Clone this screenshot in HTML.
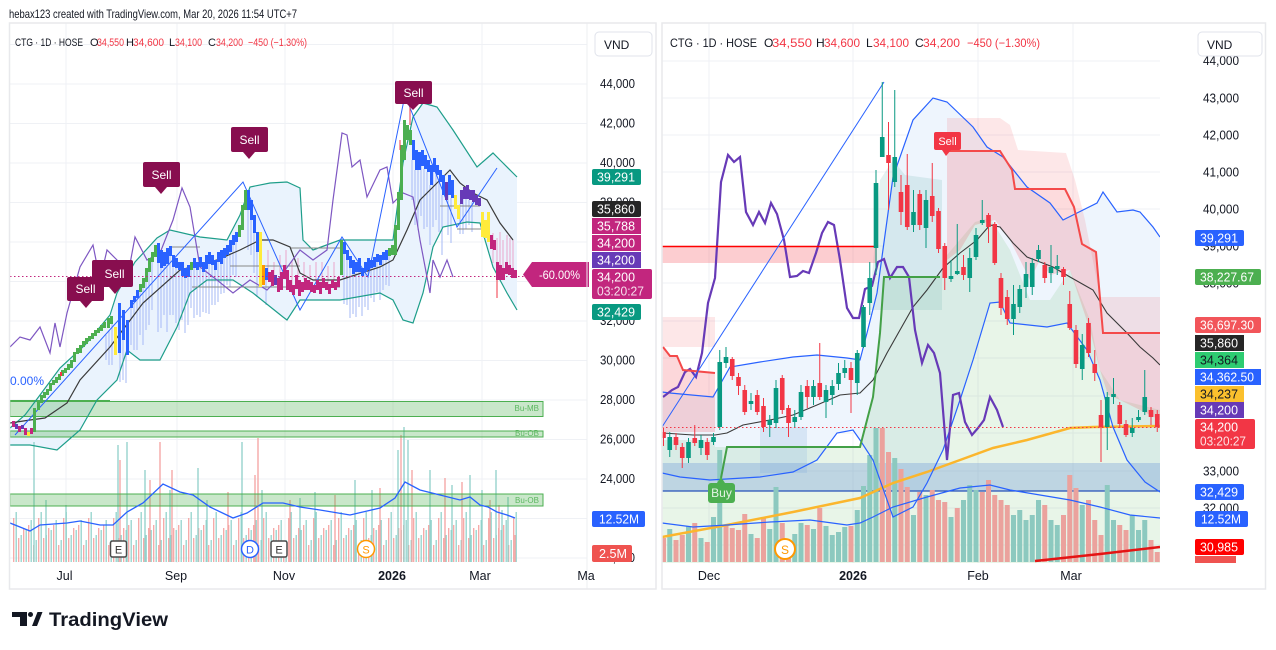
<!DOCTYPE html>
<html><head><meta charset="utf-8"><style>
html,body{margin:0;padding:0;background:#fff;width:1276px;height:650px;overflow:hidden}
svg{display:block}
text{font-family:"Liberation Sans",sans-serif}
</style></head><body>
<svg width="1276" height="650" viewBox="0 0 1276 650" xmlns="http://www.w3.org/2000/svg">
<defs>
<clipPath id="cl"><rect x="10" y="23" width="577" height="540"/></clipPath>
<clipPath id="cr"><rect x="662" y="23" width="498" height="540"/></clipPath>
<pattern id="lv" x="0" y="0" width="25" height="650" patternUnits="userSpaceOnUse">
<path d="M1.2 530V562M6.2 520V562M11.2 540V562M16.2 512V562M21.2 535V562" stroke="#93d3cc" stroke-width="1.3"/>
<path d="M3.7 525V562M8.7 545V562M13.7 518V562M18.7 538V562M23.7 528V562" stroke="#f5a7a5" stroke-width="1.3"/>
</pattern>
</defs>
<rect width="1276" height="650" fill="#fff"/>
<text x="9" y="18" font-size="12" fill="#131722" textLength="288" lengthAdjust="spacingAndGlyphs">hebax123 created with TradingView.com, Mar 20, 2026 11:54 UTC+7</text>

<!-- ============ LEFT CHART ============ -->
<g clip-path="url(#cl)">
<path d="M10 44.5H587M10 84H587M10 123.5H587M10 163H587M10 202.5H587M10 242H587M10 281.5H587M10 321H587M10 360.5H587M10 400H587M10 439.5H587M10 479H587M10 518.5H587M10 558H587M66 23V563M177 23V563M285 23V563M393 23V563M482 23V563" stroke="#eff1f5" stroke-width="1" fill="none"/>
<polygon fill="#eaf3fd" points="10,428 25,415 40,395 60,368 85,345 110,315 117,293 135,262 157,238 170,230 200,237 227,240 240,215 250,187 270,183 287,182 300,188 303,240 313,250 340,240 393,240 403,163 413,117 423,103 437,107 453,130 477,167 493,153 500,160 513,173 517,177 517,310 507,293 493,267 480,223 467,222 443,227 433,247 423,293 413,323 403,320 393,300 380,293 340,300 300,300 287,320 283,317 253,293 233,280 207,280 190,293 177,327 160,360 140,360 127,350 117,380 97,400 80,430 57,450 30,445 10,445"/>
<!-- volume -->
<rect x="12" y="420" width="505" height="142" fill="url(#lv)"/>
<path d="M34 442V562M118 445V562M127 442V562M145 470V562M198 468V562M242 442V562M262 490V562M46 500V562M66 505V562M170 490V562M207 500V562M300 498V562M315 492V562M355 480V562M372 490V562M398 450V562M404 427V562M408 440V562M430 470V562M452 485V562M470 475V562M482 490V562M496 470V562M502 510V562M508 497V562" stroke="#8fd0c9" stroke-width="1.3"/>
<path d="M120 460V562M160 442V562M172 470V562M255 475V562M258 438V562M150 480V562M228 492V562M290 500V562M335 495V562M380 488V562M401 435V562M412 470V562M445 478V562M462 482V562M490 500V562M499 505V562M515 535V562" stroke="#f4a2a0" stroke-width="1.3"/>
<!-- Bu boxes -->
<rect x="10" y="401.5" width="533" height="15" fill="#4caf50" fill-opacity="0.3" stroke="#4caf50" stroke-width="1"/>
<rect x="10" y="431" width="533" height="6" fill="#4caf50" fill-opacity="0.3" stroke="#4caf50" stroke-width="1"/>
<rect x="10" y="494" width="533" height="12" fill="#4caf50" fill-opacity="0.3" stroke="#4caf50" stroke-width="1"/>
<path d="M10 401H110" stroke="#4caf50" stroke-width="2"/>
<text x="539" y="411" font-size="8" fill="#5cb860" text-anchor="end">Bu-MB</text>
<text x="539" y="436" font-size="8" fill="#5cb860" text-anchor="end">Bu-OB</text>
<text x="539" y="503" font-size="8" fill="#5cb860" text-anchor="end">Bu-OB</text>
<!-- vol MA -->
<polyline fill="none" stroke="#2962ff" stroke-width="1.3" points="10,523 30,531 40,525 67,523 80,521 100,525 113,525 127,512 143,503 163,484 180,492 193,495 210,507 233,518 247,513 263,503 283,503 300,507 320,510 350,515 380,508 395,498 405,482 420,490 440,495 460,500 470,497 480,505 488,507 497,512 507,515 515,518"/>
<!-- ghost wicks -->
<path fill="none" stroke="#a6baf6" stroke-width="1" d="M106 335v25M109 330v35M112 320v45M120 352v30M123 340v40M126 355v28M131 305v40M134 300v50M137 295v55M140 290v45M143 285v60M146 280v50M149 270v55M152 260v50M158 262v70M161 268v60M164 265v50M167 262v70M170 255v60M173 265v50M176 268v55M179 270v60M182 275v45M185 278v55M188 275v50M191 268v40M194 268v50M197 270v45M200 267v50M203 272v40M206 268v45M209 264v50M212 265v40M215 270v35M218 262v40M221 264v30M224 258v35M227 255v30M230 252v35M233 245v30M236 242v35M248 210v40M251 220v35M254 233v40M257 252v45M266 280v25M344 254v50M347 260v45M350 268v50M353 274v40M356 272v45M359 272v35M362 276v40M365 272v35M368 270v40M371 268v30M374 267v35M377 262v30M380 265v35M383 260v30M386 260v25M389 256v30M412 160v40M415 170v55M418 170v60M421 166v50M424 169v60M427 172v55M430 185v60M433 172v55M436 175v45M439 182v50M442 195v60M448 195v40M451 198v45M460 204v30M463 199v35M466 199v30M469 200v25M472 202v30"/>
<path fill="none" stroke="#e9a6cb" stroke-width="1" d="M268 250v25M274 262v15M280 255v20M286 250v25M292 260v25M298 258v25M304 262v18M310 265v20M316 262v20M322 262v18M328 266v20M334 262v18M493 233v30M497 238v28M500 232v35M503 240v30M507 235v32M510 238v32M513 240v30"/>
<!-- BB lines -->
<polyline fill="none" stroke="#1e9e8a" stroke-width="1.2" points="10,428 25,415 40,395 60,368 85,345 110,315 117,293 135,262 157,238 170,230 200,237 227,240 240,215 250,187 270,183 287,182 300,188 303,240 313,250 340,240 393,240 403,163 413,117 423,103 437,107 453,130 477,167 493,153 500,160 513,173 517,177"/>
<polyline fill="none" stroke="#1e9e8a" stroke-width="1.2" points="517,310 507,293 493,267 480,223 467,222 443,227 433,247 423,293 413,323 403,320 393,300 380,293 340,300 300,300 287,320 283,317 253,293 233,280 207,280 190,293 177,327 160,360 140,360 127,350 117,380 97,400 80,430 57,450 30,445 10,445"/>
<!-- gray boxes -->
<path fill="none" stroke="#888" stroke-width="1" d="M192 287H340M230 266H300M290 248H340M440 206H480M457 229H483M170 247H200"/>
<!-- SMA -->
<polyline fill="none" stroke="#3a3a3a" stroke-width="1.2" points="10,423 30,420 45,418 67,403 80,380 110,347 143,303 180,270 217,260 240,250 260,240 273,240 290,247 300,273 313,280 340,280 380,267 393,260 407,230 420,200 437,183 450,170 460,183 473,193 487,200 500,223 513,240"/>
<!-- purple -->
<polyline fill="none" stroke="#7e57c2" stroke-width="1.2" points="10,347 20,337 30,340 40,327 50,353 55,323 60,347 67,313 80,267 93,245 100,280 107,250 117,260 127,280 135,237 147,260 160,253 173,220 182,188 190,207 200,267 217,280 233,293 250,280 267,290 280,277 300,250 313,260 327,250 333,200 342,133 347,135 352,167 360,160 367,197 380,170 387,167 393,203 403,193 413,197 420,240 430,293 433,260 440,277 447,260 453,277"/>
<!-- zigzag -->
<polyline fill="none" stroke="#2962ff" stroke-width="1" points="15,435 243,182 300,310 342,237 368,277 405,95 457,227 497,168"/>
<!-- candles -->
<g>
<rect x="12" y="421" width="3" height="6" fill="#c2267e"/><rect x="15" y="424" width="3" height="5" fill="#673ab7"/><rect x="18" y="426" width="3" height="6" fill="#c2267e"/><rect x="21" y="425" width="3" height="4" fill="#673ab7"/><rect x="24" y="428" width="3" height="7" fill="#c2267e"/><rect x="27" y="432" width="3" height="4" fill="#ffeb3b"/><rect x="30" y="428" width="3" height="6" fill="#c2267e"/>
<g fill="#4caf50">
<rect x="33" y="408" width="3" height="24"/><rect x="37" y="402" width="3" height="8"/><rect x="40" y="395" width="3" height="8"/><rect x="43" y="392" width="3" height="6"/><rect x="46" y="389" width="3" height="6"/><rect x="49" y="383" width="3" height="8"/><rect x="52" y="380" width="3" height="5"/><rect x="55" y="377" width="3" height="6"/><rect x="58" y="374" width="3" height="6"/><rect x="61" y="370" width="3" height="6"/><rect x="64" y="368" width="3" height="5"/><rect x="67" y="364" width="3" height="6"/><rect x="70" y="360" width="3" height="8"/><rect x="73" y="352" width="3" height="10"/><rect x="76" y="348" width="3" height="6"/><rect x="79" y="345" width="3" height="8"/><rect x="82" y="341" width="3" height="6"/><rect x="85" y="338" width="3" height="6"/><rect x="88" y="336" width="3" height="5"/><rect x="91" y="333" width="3" height="6"/><rect x="94" y="330" width="3" height="6"/><rect x="97" y="328" width="3" height="5"/><rect x="100" y="325" width="3" height="6"/><rect x="103" y="322" width="3" height="6"/><rect x="107" y="318" width="3" height="10"/><rect x="110" y="316" width="3" height="8"/>
<rect x="139" y="284" width="3" height="8"/><rect x="142" y="278" width="3" height="10"/><rect x="145" y="268" width="3" height="14"/><rect x="148" y="258" width="3" height="14"/><rect x="151" y="252" width="3" height="10"/><rect x="154" y="245" width="3" height="12"/><rect x="190" y="262" width="3" height="8"/><rect x="238" y="225" width="3" height="12"/><rect x="241" y="205" width="3" height="25"/><rect x="244" y="190" width="3" height="20"/><rect x="340" y="240" width="3" height="35"/><rect x="388" y="248" width="3" height="8"/><rect x="391" y="245" width="3" height="10"/><rect x="394" y="225" width="3" height="30"/><rect x="397" y="192" width="3" height="38"/><rect x="400" y="145" width="3" height="55"/><rect x="403" y="120" width="3" height="40"/><rect x="406" y="125" width="3" height="15"/><rect x="409" y="130" width="3" height="15"/>
</g>
<rect x="60" y="372" width="2" height="4" fill="#f23645"/>
<rect x="114" y="327" width="3" height="28" fill="#ffeb3b"/>
<g fill="#2962ff">
<rect x="118" y="303" width="3" height="50"/><rect x="122" y="310" width="3" height="30"/><rect x="126" y="320" width="3" height="35"/><rect x="130" y="300" width="3" height="8"/><rect x="133" y="296" width="3" height="6"/><rect x="136" y="290" width="3" height="8"/><rect x="157" y="243" width="3" height="20"/><rect x="160" y="250" width="3" height="18"/><rect x="163" y="252" width="3" height="14"/><rect x="166" y="248" width="3" height="16"/><rect x="169" y="246" width="3" height="10"/><rect x="172" y="255" width="3" height="12"/><rect x="175" y="258" width="3" height="10"/><rect x="178" y="262" width="3" height="8"/><rect x="181" y="262" width="3" height="14"/><rect x="184" y="268" width="3" height="10"/><rect x="187" y="265" width="3" height="12"/><rect x="193" y="258" width="3" height="10"/><rect x="196" y="262" width="3" height="8"/><rect x="199" y="257" width="3" height="10"/><rect x="202" y="262" width="3" height="10"/><rect x="205" y="255" width="3" height="14"/><rect x="208" y="252" width="3" height="12"/><rect x="211" y="255" width="3" height="10"/><rect x="214" y="260" width="3" height="10"/><rect x="217" y="252" width="3" height="10"/><rect x="220" y="250" width="3" height="14"/><rect x="223" y="248" width="3" height="10"/><rect x="226" y="245" width="3" height="10"/><rect x="229" y="240" width="3" height="12"/><rect x="232" y="235" width="3" height="10"/><rect x="235" y="232" width="3" height="10"/><rect x="247" y="190" width="3" height="20"/><rect x="250" y="200" width="3" height="20"/><rect x="253" y="215" width="3" height="18"/><rect x="256" y="232" width="3" height="20"/><rect x="265" y="268" width="3" height="12"/>
<rect x="343" y="242" width="3" height="12"/><rect x="346" y="250" width="3" height="10"/><rect x="349" y="256" width="3" height="12"/><rect x="352" y="260" width="3" height="14"/><rect x="355" y="262" width="3" height="10"/><rect x="358" y="258" width="3" height="14"/><rect x="361" y="268" width="3" height="8"/><rect x="364" y="262" width="3" height="10"/><rect x="367" y="258" width="3" height="12"/><rect x="370" y="260" width="3" height="8"/><rect x="373" y="257" width="3" height="10"/><rect x="376" y="254" width="3" height="8"/><rect x="379" y="255" width="3" height="10"/><rect x="382" y="252" width="3" height="8"/><rect x="385" y="250" width="3" height="10"/>
<rect x="412" y="140" width="3" height="20"/><rect x="415" y="150" width="3" height="20"/><rect x="418" y="152" width="3" height="18"/><rect x="421" y="150" width="3" height="16"/><rect x="424" y="155" width="3" height="14"/><rect x="427" y="160" width="3" height="12"/><rect x="430" y="165" width="3" height="20"/><rect x="433" y="158" width="3" height="14"/><rect x="436" y="165" width="3" height="10"/><rect x="439" y="170" width="3" height="12"/><rect x="442" y="175" width="3" height="20"/><rect x="448" y="175" width="3" height="20"/><rect x="451" y="180" width="3" height="18"/>
</g>
<rect x="259" y="232" width="3" height="55" fill="#ffeb3b"/><rect x="262" y="265" width="3" height="20" fill="#ff9800"/>
<g fill="#c2267e">
<rect x="268" y="272" width="3" height="10"/><rect x="271" y="270" width="3" height="16"/><rect x="277" y="278" width="3" height="14"/><rect x="280" y="272" width="3" height="18"/><rect x="283" y="265" width="3" height="14"/><rect x="286" y="270" width="3" height="20"/><rect x="289" y="280" width="3" height="12"/><rect x="292" y="285" width="3" height="10"/><rect x="295" y="275" width="3" height="14"/><rect x="298" y="280" width="3" height="16"/><rect x="301" y="282" width="3" height="10"/><rect x="304" y="278" width="3" height="12"/><rect x="307" y="280" width="3" height="10"/><rect x="310" y="282" width="3" height="10"/><rect x="313" y="285" width="3" height="8"/><rect x="316" y="280" width="3" height="10"/><rect x="319" y="282" width="3" height="12"/><rect x="322" y="278" width="3" height="10"/><rect x="325" y="282" width="3" height="8"/><rect x="328" y="284" width="3" height="10"/><rect x="331" y="280" width="3" height="8"/><rect x="334" y="282" width="3" height="8"/><rect x="337" y="277" width="3" height="10"/>
<rect x="490" y="235" width="3" height="14"/><rect x="493" y="240" width="3" height="10"/><rect x="496" y="262" width="3" height="18"/><rect x="499" y="265" width="3" height="15"/><rect x="502" y="268" width="3" height="12"/><rect x="505" y="262" width="3" height="12"/><rect x="508" y="265" width="3" height="10"/><rect x="511" y="268" width="3" height="10"/><rect x="514" y="270" width="3" height="8"/>
</g>
<rect x="274" y="275" width="3" height="10" fill="#673ab7"/>
<rect x="445" y="182" width="3" height="18" fill="#673ab7"/>
<g fill="#ffeb3b"><rect x="454" y="195" width="3" height="14"/><rect x="457" y="205" width="3" height="14"/><rect x="481" y="212" width="3" height="25"/><rect x="484" y="220" width="3" height="18"/><rect x="487" y="212" width="3" height="30"/></g>
<g fill="#673ab7"><rect x="460" y="190" width="3" height="14"/><rect x="463" y="187" width="3" height="12"/><rect x="466" y="185" width="3" height="14"/><rect x="469" y="190" width="3" height="10"/><rect x="472" y="190" width="3" height="12"/><rect x="475" y="195" width="3" height="10"/><rect x="478" y="198" width="3" height="8"/></g>
<path d="M497 280V298M410 98V125M400 140V150" stroke="#f23645" stroke-width="1"/>
</g>
<!-- price dotted -->
<path d="M10 276.5H587" stroke="#c2267e" stroke-width="1" stroke-dasharray="1.5 2.5"/>
<!-- Sell labels -->
<g fill="#880e4f">
<rect x="67" y="277" width="37" height="24" rx="2"/><polygon points="80,301 86,308 92,301"/>
<rect x="92" y="260" width="41" height="27" rx="2"/><polygon points="109,287 115,294 121,287"/>
<rect x="143" y="162" width="37" height="25" rx="2"/><polygon points="155,187 161,194 167,187"/>
<rect x="231" y="127" width="37" height="25" rx="2"/><polygon points="243,152 249,159 255,152"/>
<rect x="395" y="81" width="37" height="23" rx="2"/><polygon points="407,104 413,110 419,104"/>
</g>
<g fill="#fff" font-size="12" text-anchor="middle">
<text x="85.5" y="293">Sell</text><text x="114.5" y="278">Sell</text><text x="161.5" y="179">Sell</text><text x="249.5" y="144">Sell</text><text x="413.5" y="97">Sell</text>
</g>
<text x="10" y="385" font-size="12" fill="#2962ff">0.00%</text>
<!-- events -->
<rect x="110.5" y="541" width="16" height="16" rx="2" fill="#fff" stroke="#4a4a4a" stroke-width="1.5"/><text x="118.5" y="553.5" font-size="11" fill="#333" text-anchor="middle">E</text>
<circle cx="250" cy="549" r="8.5" fill="#fff" stroke="#2962ff" stroke-width="1.5"/><text x="250" y="553.5" font-size="11" fill="#2962ff" text-anchor="middle">D</text>
<rect x="271" y="541" width="16" height="16" rx="2" fill="#fff" stroke="#4a4a4a" stroke-width="1.5"/><text x="279" y="553.5" font-size="11" fill="#333" text-anchor="middle">E</text>
<circle cx="366" cy="549" r="8.5" fill="#fff" stroke="#ff9800" stroke-width="1.5"/><text x="366" y="553.5" font-size="11" fill="#ff9800" text-anchor="middle">S</text>
</g>
<!-- -60% label -->
<polygon points="523,274.5 532,262 589,262 589,287 532,287" fill="#c2267e"/>
<text x="539" y="279" font-size="12" fill="#fff" textLength="41" lengthAdjust="spacingAndGlyphs">-60.00%</text>

<!-- left legend -->
<g font-size="11">
<text x="15" y="46" fill="#131722" textLength="68" lengthAdjust="spacingAndGlyphs">CTG · 1D · HOSE</text>
<text x="90" y="46" fill="#131722">O</text><text x="97" y="46" fill="#f23645" textLength="27" lengthAdjust="spacingAndGlyphs">34,550</text>
<text x="126" y="46" fill="#131722">H</text><text x="133" y="46" fill="#f23645" textLength="31" lengthAdjust="spacingAndGlyphs">34,600</text>
<text x="169" y="46" fill="#131722">L</text><text x="175" y="46" fill="#f23645" textLength="27" lengthAdjust="spacingAndGlyphs">34,100</text>
<text x="208" y="46" fill="#131722">C</text><text x="216" y="46" fill="#f23645" textLength="27" lengthAdjust="spacingAndGlyphs">34,200</text>
<text x="248" y="46" fill="#f23645" textLength="59" lengthAdjust="spacingAndGlyphs">−450 (−1.30%)</text>
</g>

<!-- left price axis -->
<path d="M587 23V589" stroke="#eeeff2" stroke-width="1"/>
<g font-size="12.5" fill="#131722">
<text x="600" y="88" textLength="35" lengthAdjust="spacingAndGlyphs">44,000</text>
<text x="600" y="127.5" textLength="35" lengthAdjust="spacingAndGlyphs">42,000</text>
<text x="600" y="167" textLength="35" lengthAdjust="spacingAndGlyphs">40,000</text>
<text x="600" y="206.5" textLength="35" lengthAdjust="spacingAndGlyphs">38,000</text>
<text x="600" y="325" textLength="35" lengthAdjust="spacingAndGlyphs">32,000</text>
<text x="600" y="364.5" textLength="35" lengthAdjust="spacingAndGlyphs">30,000</text>
<text x="600" y="404" textLength="35" lengthAdjust="spacingAndGlyphs">28,000</text>
<text x="600" y="443.5" textLength="35" lengthAdjust="spacingAndGlyphs">26,000</text>
<text x="600" y="483" textLength="35" lengthAdjust="spacingAndGlyphs">24,000</text>
<text x="600" y="562" textLength="35" lengthAdjust="spacingAndGlyphs">20,000</text>
</g>
<g font-size="12.5" fill="#fff">
<rect x="592" y="169" width="49" height="16" rx="2" fill="#089981"/><text x="597" y="181.5" textLength="38" lengthAdjust="spacingAndGlyphs">39,291</text>
<rect x="592" y="201" width="49" height="16" rx="2" fill="#262626"/><text x="597" y="213.5" textLength="38" lengthAdjust="spacingAndGlyphs">35,860</text>
<rect x="592" y="218" width="49" height="16" fill="#c2267e"/><text x="597" y="230.5" textLength="38" lengthAdjust="spacingAndGlyphs">35,788</text>
<rect x="592" y="235" width="49" height="16" fill="#c2267e"/><text x="597" y="247.5" textLength="38" lengthAdjust="spacingAndGlyphs">34,200</text>
<rect x="592" y="252" width="49" height="16" fill="#673ab7"/><text x="597" y="264.5" textLength="38" lengthAdjust="spacingAndGlyphs">34,200</text>
<rect x="592" y="269" width="60" height="30" rx="2" fill="#c2267e"/><text x="597" y="281.5" textLength="38" lengthAdjust="spacingAndGlyphs">34,200</text><text x="597" y="295.5" fill-opacity="0.85" textLength="47" lengthAdjust="spacingAndGlyphs">03:20:27</text>
<rect x="592" y="304" width="49" height="16" rx="2" fill="#089981"/><text x="597" y="316.5" textLength="38" lengthAdjust="spacingAndGlyphs">32,429</text>
<rect x="592" y="511" width="53" height="16" rx="2" fill="#2962ff"/><text x="599" y="523.5" textLength="40" lengthAdjust="spacingAndGlyphs">12.52M</text>
<rect x="592" y="545" width="40" height="17" rx="2" fill="#ef5350"/><text x="599" y="558" textLength="28" lengthAdjust="spacingAndGlyphs">2.5M</text>
</g>
<rect x="595" y="32" width="57" height="24" rx="4" fill="#fff" stroke="#e0e3eb"/>
<text x="604" y="49" font-size="12" fill="#131722">VND</text>
<!-- left time axis -->
<g font-size="12.5" fill="#131722" text-anchor="middle">
<text x="64.5" y="580">Jul</text><text x="176" y="580">Sep</text><text x="284" y="580">Nov</text><text x="392" y="580" font-weight="bold">2026</text><text x="480" y="580">Mar</text><text x="586" y="580">Ma</text>
</g>
<rect x="9.5" y="23" width="646.5" height="566" fill="none" stroke="#e8e9ec" stroke-width="1.5"/>

<!-- ============ RIGHT CHART ============ -->
<g clip-path="url(#cr)">
<path d="M662 61H1160M662 98H1160M662 135H1160M662 172H1160M662 209H1160M662 246H1160M662 283H1160M662 321H1160M662 358H1160M662 396H1160M662 433H1160M662 471H1160M662 508H1160M662 545H1160M709 23V563M853 23V563M978 23V563M1073 23V563" stroke="#eff1f5" stroke-width="1" fill="none"/>
<!-- BB fill -->
<polygon fill="#eef5fd" points="662,392 670,393 713,397 730,367 760,362 793,357 817,355 847,358 860,360 867,333 877,293 893,177 913,120 933,98 947,102 973,127 987,147 1003,157 1027,187 1050,203 1063,220 1073,215 1097,203 1103,192 1117,212 1133,210 1140,212 1153,227 1160,237 1160,492 1145,482 1127,460 1113,427 1100,380 1087,350 1067,323 1047,327 1010,323 1000,302 990,303 973,360 960,400 943,450 927,483 913,507 893,517 873,460 860,440 853,430 837,433 817,460 793,472 760,477 710,480 680,477 662,473"/>
<!-- green fill -->
<polygon fill="#4caf50" fill-opacity="0.13" points="715,440 715,447 860,447 873,397 880,333 884,277 940,277 947,255 975,222 990,218 1010,250 1030,300 1050,300 1070,270 1090,320 1100,370 1120,400 1160,410 1160,563 662,563 662,440"/>
<polygon fill="#5aa8a0" fill-opacity="0.16" points="870,300 880,180 893,160 905,175 942,180 942,310 870,310"/>
<rect x="760" y="427" width="47" height="46" fill="#9fc0e6" fill-opacity="0.3"/>
<!-- pink fills -->
<rect x="662" y="317" width="53" height="30" fill="#f23645" fill-opacity="0.12"/>
<polygon fill="#f23645" fill-opacity="0.2" points="663,347 670,356 677,356 683,370 715,373 715,432 662,432"/>
<rect x="662" y="247" width="215" height="16" fill="#f23645" fill-opacity="0.25"/>
<polygon fill="#f23645" fill-opacity="0.12" points="947,118 1000,118 1010,125 1018,150 1066,153 1075,180 1085,220 1100,297 1160,297 1160,333 1103,333 1096,252 1082,244 1074,207 1065,189 1015,189 1012,170 1000,151 947,151"/>
<polygon fill="#f23645" fill-opacity="0.18" points="947,151 1000,151 1012,170 1015,189 1065,189 1074,207 1082,244 1096,252 1103,333 1160,333 1160,420 1140,410 1120,400 1108,395 1100,370 1090,330 1080,300 1070,270 1050,275 1040,260 1030,280 1010,240 995,220 975,225 960,250 947,260"/>
<!-- blue zone -->
<rect x="662" y="463" width="503" height="28" fill="#6f9bd8" fill-opacity="0.35"/>
<path d="M662 491H1165" stroke="#2451b8" stroke-width="1.2"/>
<!-- volume -->
<path fill="none" stroke="#8cc9bf" stroke-width="5" d="M669.75 529V562M688.5 526V562M701 538V562M713.5 517V562M719.75 450V562M751 534V562M769.75 529V562M776 487V562M794.75 534V562M801 523V562M813.5 529V562M826 526V562M832.25 535V562M838.5 532V562M844.75 527V562M857.25 510V562M863.5 486V562M869.75 455V562M876 428V562M894.75 458V562M913.5 515V562M926 495V562M951 517V562M963.5 500V562M969.75 485V562M976 490V562M1013.5 515V562M1019.75 510V562M1026 520V562M1032.25 515V562M1038.5 500V562M1051 520V562M1057.25 525V562M1082.25 505V562M1107.25 485V562M1113.5 520V562M1132.25 515V562M1138.5 530V562M1144.75 520V562"/>
<path fill="none" stroke="#eba29d" stroke-width="5" d="M663.5 538V562M676 540V562M682.25 535V562M694.75 523V562M707.25 542V562M726 525V562M732.25 528V562M738.5 530V562M744.75 514V562M757.25 538V562M763.5 517V562M782.25 523V562M788.5 543V562M807.25 525V562M819.75 508V562M851 526V562M882.25 428V562M888.5 452V562M901 469V562M907.25 487V562M919.75 492V562M932.25 490V562M938.5 500V562M944.75 502V562M957.25 508V562M982.25 492V562M988.5 480V562M994.75 495V562M1001 500V562M1007.25 505V562M1044.75 505V562M1063.5 515V562M1069.75 475V562M1076 488V562M1088.5 500V562M1094.75 520V562M1101 535V562M1119.75 525V562M1126 530V562M1151 540V562M1157.25 552V562"/>
<!-- lines -->
<polyline fill="none" stroke="#fbb62d" stroke-width="2.5" points="662,537 727,525 793,512 860,498 893,483 927,472 960,460 993,448 1027,440 1070,428 1093,427 1160,426"/>
<polyline fill="none" stroke="#2962ff" stroke-width="1.2" points="662,523 693,527 727,525 770,522 810,520 847,525 860,523 873,517 893,507 927,497 960,488 990,485 1010,490 1040,495 1070,500 1100,507 1130,515 1160,518"/>
<polyline fill="none" stroke="#2962ff" stroke-width="1.2" points="662,392 670,393 713,397 730,367 760,362 793,357 817,355 847,358 860,360 867,333 877,293 893,177 913,120 933,98 947,102 973,127 987,147 1003,157 1027,187 1050,203 1063,220 1073,215 1097,203 1103,192 1117,212 1133,210 1140,212 1153,227 1160,237"/>
<polyline fill="none" stroke="#2962ff" stroke-width="1.2" points="662,473 680,477 710,480 760,477 793,472 817,460 837,433 853,430 860,440 873,460 893,517 913,507 927,483 943,450 960,400 973,360 990,303 1000,302 1010,323 1047,327 1067,323 1087,350 1100,380 1113,427 1127,460 1145,482 1160,492"/>
<polyline fill="none" stroke="#3a3a3a" stroke-width="1.1" points="663,433 693,435 715,435 727,433 743,425 770,420 793,415 817,405 840,395 860,393 873,380 887,353 900,330 913,307 927,290 943,268 960,253 977,240 990,225 1000,227 1013,243 1027,257 1053,267 1070,277 1093,290 1107,313 1127,333 1140,347 1153,358 1160,365"/>
<polyline fill="none" stroke="#673ab7" stroke-width="2.2" points="663,397 672,390 678,387 685,372 690,369 696,377 702,353 708,303 715,278 721,182 728,155 734,162 740,157 746,212 753,225 759,212 765,223 771,203 777,214 784,240 790,277 797,276 803,271 809,273 816,253 822,233 828,222 834,225 840,260 847,308 853,318 859,318 865,289 872,286 878,262 884,259 890,278 897,267 903,267 909,277 915,330 922,363 928,345 934,353 940,373 947,460 953,395 959,393 965,422 972,435 978,428 984,420 990,397 997,410 1003,427"/>
<polyline fill="none" stroke="#43a047" stroke-width="2" points="721,478 727,447 860,447 873,397 880,333 884,277 940,277"/>
<polyline fill="none" stroke="#f44a4a" stroke-width="2" points="663,347 670,356 677,356 683,370 715,373"/>
<polyline fill="none" stroke="#f44a4a" stroke-width="2" points="947,151 1000,151 1012,170 1015,189 1065,189 1074,207 1082,244 1096,252 1103,333 1160,333"/>
<path d="M662 246.5H877" stroke="#ff0000" stroke-width="1.5"/>
<path d="M662 427L884 82" stroke="#2962ff" stroke-width="1"/>
<polyline fill="none" stroke="#e41414" stroke-width="2.5" points="1035,561 1100,554 1160,547"/>
<!-- candle wicks -->
<path fill="none" stroke="#089981" stroke-width="1" d="M669.75 432V457M688.5 438V463M701 435V455M713.5 433V445M719.75 350V430M726 347V368M751 393V410M769.75 415V437M776 380V428M794.75 410V428M801 385V420M813.5 380V405M826 385V418M832.25 380V405M838.5 363V390M844.75 360V378M857.25 350V395M863.5 305V348M869.75 262V315M876 170V275M882.25 82V157M894.75 90V187M913.5 190V232M926 190V248M951 260V282M957.25 224V275M969.75 248V292M976 228V260M982.25 200V225M1013.5 285V335M1019.75 285V313M1026 262V298M1032.25 258V295M1038.5 245V262M1051 245V283M1057.25 255V275M1082.25 334V380M1107.25 392V450M1113.5 378V404M1132.25 418V437M1138.5 410V422M1144.75 370V415"/>
<path fill="none" stroke="#f23645" stroke-width="1" d="M663.5 428V446M676 433V450M682.25 443V468M694.75 425V446M707.25 438V460M732.25 357V380M738.5 373V395M744.75 385V415M757.25 390V415M763.5 398V432M782.25 375V414M788.5 405V437M807.25 380V408M819.75 343V400M851 362V413M888.5 122V210M901 175V225M907.25 154V230M919.75 190V230M932.25 163V222M938.5 208V253M944.75 243V290M963.5 255V280M988.5 213V243M994.75 222V265M1001 273V315M1007.25 290V325M1044.75 262V283M1063.5 267V285M1069.75 291V330M1076 325V368M1088.5 318V357M1094.75 350V381M1101 400V462M1119.75 402V428M1126 420V437M1151 407V425M1157.25 410V432"/>
<g fill="#089981">
<rect x="667.45" y="437" width="4.6" height="13"/><rect x="686.2" y="442" width="4.6" height="16"/><rect x="698.7" y="440" width="4.6" height="8"/><rect x="711.2" y="437" width="4.6" height="5"/><rect x="717.45" y="362" width="4.6" height="65"/><rect x="723.7" y="357" width="4.6" height="6"/><rect x="748.7" y="401" width="4.6" height="3"/><rect x="767.45" y="420" width="4.6" height="5"/><rect x="773.7" y="388" width="4.6" height="35"/><rect x="792.45" y="417" width="4.6" height="5"/><rect x="798.7" y="392" width="4.6" height="25"/><rect x="811.2" y="386" width="4.6" height="11"/><rect x="823.7" y="390" width="4.6" height="12"/><rect x="829.95" y="386" width="4.6" height="9"/><rect x="836.2" y="373" width="4.6" height="11"/><rect x="842.45" y="368" width="4.6" height="5"/><rect x="854.95" y="353" width="4.6" height="30"/><rect x="861.2" y="307" width="4.6" height="40"/><rect x="867.45" y="278" width="4.6" height="25"/><rect x="873.7" y="183" width="4.6" height="65"/><rect x="879.95" y="137" width="4.6" height="20"/><rect x="892.45" y="157" width="4.6" height="25"/><rect x="911.2" y="212" width="4.6" height="13"/><rect x="923.7" y="200" width="4.6" height="28"/><rect x="948.7" y="276" width="4.6" height="3"/><rect x="954.95" y="271" width="4.6" height="3"/><rect x="967.45" y="258" width="4.6" height="20"/><rect x="973.7" y="235" width="4.6" height="22"/><rect x="979.95" y="220" width="4.6" height="3"/><rect x="1011.2" y="304" width="4.6" height="15"/><rect x="1017.45" y="289" width="4.6" height="18"/><rect x="1023.7" y="274" width="4.6" height="13"/><rect x="1029.95" y="263" width="4.6" height="24"/><rect x="1036.2" y="250" width="4.6" height="9"/><rect x="1048.7" y="267" width="4.6" height="6"/><rect x="1054.95" y="266" width="4.6" height="3"/><rect x="1079.95" y="345" width="4.6" height="24"/><rect x="1104.95" y="397" width="4.6" height="30"/><rect x="1111.2" y="394" width="4.6" height="3"/><rect x="1129.95" y="428" width="4.6" height="5"/><rect x="1136.2" y="417" width="4.6" height="3"/><rect x="1142.45" y="397" width="4.6" height="15"/>
</g>
<g fill="#f23645">
<rect x="661.2" y="432" width="4.6" height="6"/><rect x="673.7" y="437" width="4.6" height="8"/><rect x="679.95" y="447" width="4.6" height="11"/><rect x="692.45" y="438" width="4.6" height="5"/><rect x="704.95" y="442" width="4.6" height="13"/><rect x="729.95" y="359" width="4.6" height="17"/><rect x="736.2" y="377" width="4.6" height="9"/><rect x="742.45" y="390" width="4.6" height="22"/><rect x="754.95" y="395" width="4.6" height="17"/><rect x="761.2" y="406" width="4.6" height="21"/><rect x="779.95" y="378" width="4.6" height="32"/><rect x="786.2" y="408" width="4.6" height="15"/><rect x="804.95" y="386" width="4.6" height="11"/><rect x="817.45" y="383" width="4.6" height="14"/><rect x="848.7" y="368" width="4.6" height="12"/><rect x="886.2" y="155" width="4.6" height="8"/><rect x="898.7" y="192" width="4.6" height="20"/><rect x="904.95" y="185" width="4.6" height="42"/><rect x="917.45" y="194" width="4.6" height="31"/><rect x="929.95" y="196" width="4.6" height="20"/><rect x="936.2" y="211" width="4.6" height="38"/><rect x="942.45" y="246" width="4.6" height="32"/><rect x="961.2" y="267" width="4.6" height="8"/><rect x="986.2" y="215" width="4.6" height="12"/><rect x="992.45" y="224" width="4.6" height="39"/><rect x="998.7" y="278" width="4.6" height="30"/><rect x="1004.95" y="297" width="4.6" height="22"/><rect x="1042.45" y="265" width="4.6" height="13"/><rect x="1061.2" y="269" width="4.6" height="8"/><rect x="1067.45" y="304" width="4.6" height="24"/><rect x="1073.7" y="330" width="4.6" height="34"/><rect x="1086.2" y="323" width="4.6" height="30"/><rect x="1092.45" y="364" width="4.6" height="9"/><rect x="1098.7" y="415" width="4.6" height="12"/><rect x="1117.45" y="405" width="4.6" height="19"/><rect x="1123.7" y="424" width="4.6" height="11"/><rect x="1148.7" y="410" width="4.6" height="7"/><rect x="1154.95" y="414" width="4.6" height="13"/>
</g>
<path d="M662 427.5H1160" stroke="#f23645" stroke-width="1" stroke-dasharray="1.5 2.5"/>
<!-- Sell / Buy / S -->
<rect x="934" y="132" width="27" height="18" rx="2" fill="#f23645"/><polygon points="942,150 946,156 951,150" fill="#f23645"/>
<text x="947.5" y="145" font-size="11" fill="#fff" text-anchor="middle">Sell</text>
<polygon points="717,483 721,477 725,483" fill="#4caf50"/>
<rect x="708" y="483" width="27" height="20" rx="3" fill="#4caf50"/>
<text x="721.5" y="497" font-size="12" fill="#fff" text-anchor="middle" fill-opacity="0.85">Buy</text>
<circle cx="785" cy="549" r="10" fill="#fff" stroke="#ff9800" stroke-width="2"/><text x="785" y="554" font-size="12" fill="#ff9800" text-anchor="middle">S</text>
</g>

<!-- right legend -->
<g font-size="12">
<text x="670" y="47" fill="#131722" textLength="87" lengthAdjust="spacingAndGlyphs">CTG · 1D · HOSE</text>
<text x="764" y="47" fill="#131722">O</text><text x="772" y="47" fill="#f23645" textLength="40" lengthAdjust="spacingAndGlyphs">34,550</text>
<text x="816" y="47" fill="#131722">H</text><text x="824" y="47" fill="#f23645" textLength="36" lengthAdjust="spacingAndGlyphs">34,600</text>
<text x="866" y="47" fill="#131722">L</text><text x="873" y="47" fill="#f23645" textLength="36" lengthAdjust="spacingAndGlyphs">34,100</text>
<text x="915" y="47" fill="#131722">C</text><text x="923" y="47" fill="#f23645" textLength="37" lengthAdjust="spacingAndGlyphs">34,200</text>
<text x="967" y="47" fill="#f23645" textLength="73" lengthAdjust="spacingAndGlyphs">−450 (−1.30%)</text>
</g>

<!-- right price axis -->
<g font-size="12.5" fill="#131722">
<text x="1203" y="65" textLength="36" lengthAdjust="spacingAndGlyphs">44,000</text>
<text x="1203" y="102.5" textLength="36" lengthAdjust="spacingAndGlyphs">43,000</text>
<text x="1203" y="139.5" textLength="36" lengthAdjust="spacingAndGlyphs">42,000</text>
<text x="1203" y="176.5" textLength="36" lengthAdjust="spacingAndGlyphs">41,000</text>
<text x="1203" y="213.5" textLength="36" lengthAdjust="spacingAndGlyphs">40,000</text>
<text x="1203" y="250.5" textLength="36" lengthAdjust="spacingAndGlyphs">39,000</text>
<text x="1203" y="287.5" textLength="36" lengthAdjust="spacingAndGlyphs">38,000</text>
<text x="1203" y="475.5" textLength="36" lengthAdjust="spacingAndGlyphs">33,000</text>
<text x="1203" y="512.5" textLength="36" lengthAdjust="spacingAndGlyphs">32,000</text>
</g>
<g font-size="12.5" fill="#fff">
<rect x="1195" y="230" width="49" height="16" rx="2" fill="#2962ff"/><text x="1200" y="242.5" textLength="38" lengthAdjust="spacingAndGlyphs">39,291</text>
<rect x="1195" y="269" width="66" height="16" rx="2" fill="#4caf50"/><text x="1200" y="281.5" textLength="54" lengthAdjust="spacingAndGlyphs">38,227.67</text>
<rect x="1195" y="317" width="66" height="16" rx="2" fill="#f2555a"/><text x="1200" y="329.5" textLength="54" lengthAdjust="spacingAndGlyphs">36,697.30</text>
<rect x="1195" y="335" width="49" height="16" fill="#262626"/><text x="1200" y="347.5" textLength="38" lengthAdjust="spacingAndGlyphs">35,860</text>
<rect x="1195" y="352" width="49" height="16" fill="#2ecc71"/><text x="1200" y="364.5" fill="#131722" textLength="38" lengthAdjust="spacingAndGlyphs">34,364</text>
<rect x="1195" y="369" width="66" height="16" fill="#2962ff"/><text x="1200" y="381.5" textLength="54" lengthAdjust="spacingAndGlyphs">34,362.50</text>
<rect x="1195" y="386" width="49" height="16" fill="#fbc02d"/><text x="1200" y="398.5" fill="#131722" textLength="38" lengthAdjust="spacingAndGlyphs">34,237</text>
<rect x="1195" y="402" width="49" height="16" fill="#673ab7"/><text x="1200" y="414.5" textLength="38" lengthAdjust="spacingAndGlyphs">34,200</text>
<rect x="1195" y="419" width="60" height="30" rx="2" fill="#f23645"/><text x="1200" y="431.5" textLength="38" lengthAdjust="spacingAndGlyphs">34,200</text><text x="1200" y="445.5" fill-opacity="0.85" textLength="46" lengthAdjust="spacingAndGlyphs">03:20:27</text>
<rect x="1195" y="484" width="49" height="16" rx="2" fill="#2962ff"/><text x="1200" y="496.5" textLength="38" lengthAdjust="spacingAndGlyphs">32,429</text>
<rect x="1195" y="511" width="53" height="16" rx="2" fill="#2962ff"/><text x="1201" y="523.5" textLength="40" lengthAdjust="spacingAndGlyphs">12.52M</text>
<rect x="1195" y="539" width="49" height="16" rx="2" fill="#ff0000"/><text x="1200" y="551.5" textLength="38" lengthAdjust="spacingAndGlyphs">30,985</text>
<rect x="1195" y="556" width="41" height="7" fill="#ef5350"/>
</g>
<rect x="1198" y="32" width="64" height="24" rx="4" fill="#fff" stroke="#e0e3eb"/>
<text x="1207" y="49" font-size="12" fill="#131722">VND</text>
<!-- right time axis -->
<g font-size="12.5" fill="#131722" text-anchor="middle">
<text x="709" y="580">Dec</text><text x="853" y="580" font-weight="bold">2026</text><text x="978" y="580">Feb</text><text x="1071" y="580">Mar</text>
</g>
<rect x="662" y="23" width="603.5" height="566" fill="none" stroke="#e8e9ec" stroke-width="1.5"/>

<!-- footer logo -->
<g fill="#131722">
<rect x="12" y="612" width="15" height="5"/><rect x="20" y="612" width="7" height="14"/>
<circle cx="30.5" cy="614.5" r="2.5"/>
<polygon points="32,626 37,626 42.5,612 37.5,612"/>
</g>
<text x="49" y="626" font-size="19" font-weight="bold" fill="#131722" textLength="119" lengthAdjust="spacingAndGlyphs">TradingView</text>
</svg>
</body></html>
